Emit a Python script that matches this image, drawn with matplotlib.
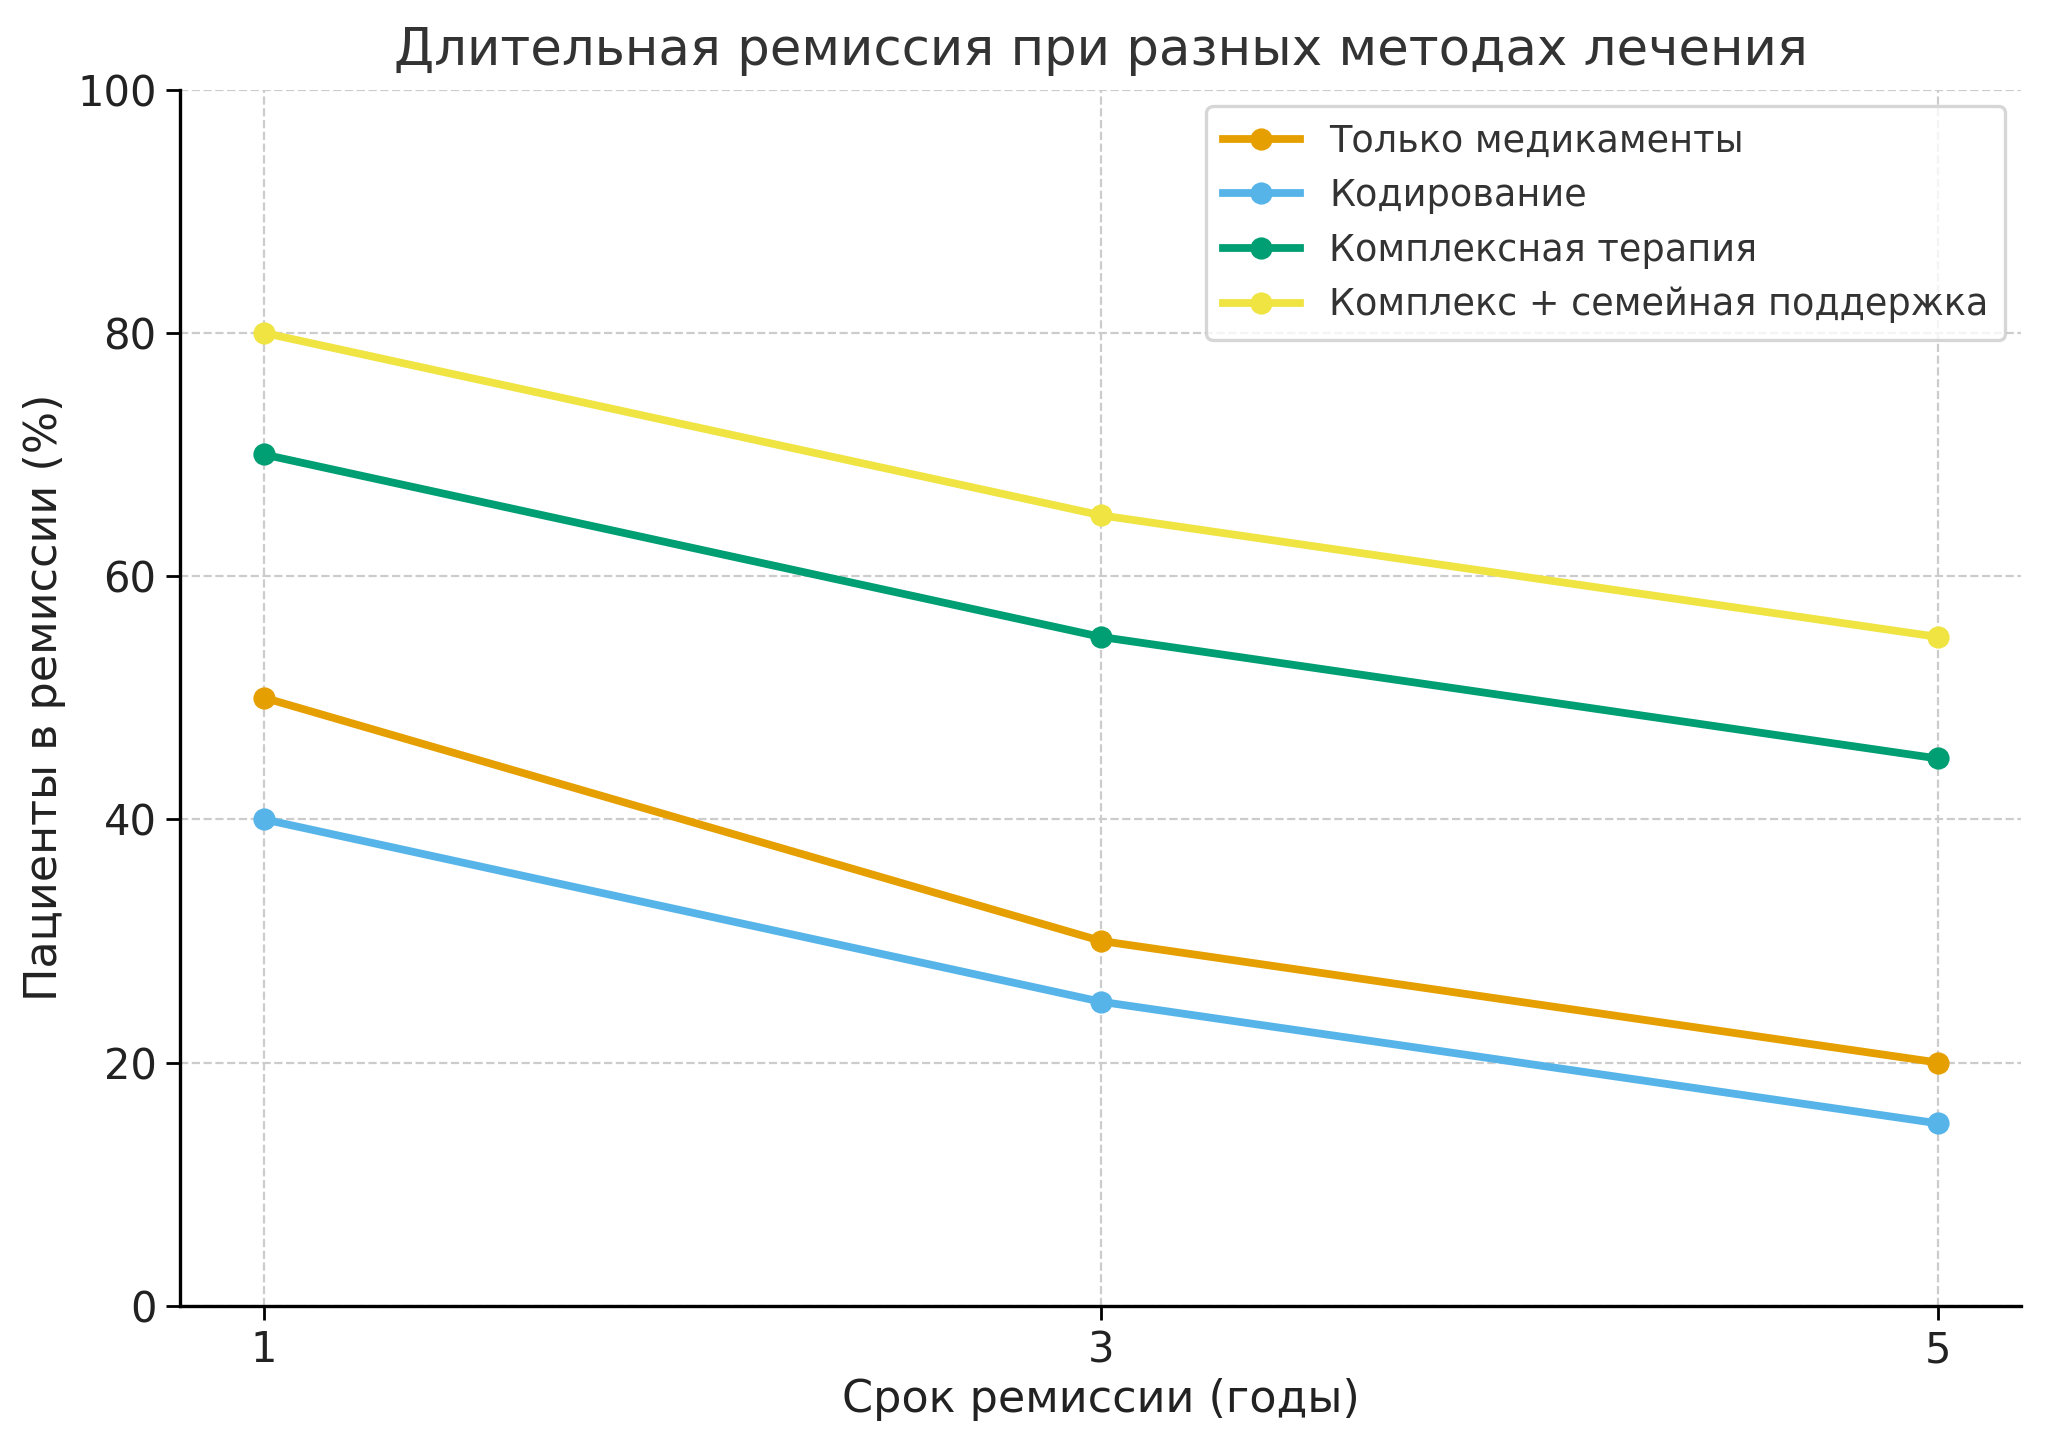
import matplotlib
matplotlib.use('Agg')
import matplotlib.pyplot as plt

# Data
years = [1, 3, 5]
meds_only = [50, 30, 20]
coding = [40, 25, 15]
complex_therapy = [70, 55, 45]
complex_family = [80, 65, 55]

series_labels = [
    'Только медикаменты',
    'Кодирование',
    'Комплексная терапия',
    'Комплекс + семейная поддержка',
]
series_colors = ['#E69F00', '#56B4E9', '#009E73', '#F0E442']

plt.rcParams['font.family'] = ['DejaVu Sans']

fig = plt.figure(figsize=(10.24, 7.23), dpi=200)
ax = fig.add_axes([0.088, 0.097, 0.899, 0.841])

for vals, label, color in zip([meds_only, coding, complex_therapy, complex_family],
                              series_labels, series_colors):
    ax.plot(years, vals, '-o', color=color, label=label, linewidth=2.8, markersize=7)

ax.set_ylim(0, 100)
ax.set_xticks(years)
ax.set_yticks([0, 20, 40, 60, 80, 100])
ax.tick_params(labelsize=15, length=5, width=1, labelcolor='#222222')

ax.set_title('Длительная ремиссия при разных методах лечения', fontsize=18.5,
             color='#333333', pad=9)
ax.set_xlabel('Срок ремиссии (годы)', fontsize=16, color='#222222', labelpad=2.5)
ax.set_ylabel('Пациенты в ремиссии (%)', fontsize=16, color='#222222')

ax.grid(True, linestyle='--', color='#cccccc', linewidth=0.8)
ax.spines['top'].set_visible(False)
ax.spines['right'].set_visible(False)
ax.spines['left'].set_linewidth(1.2)
ax.spines['bottom'].set_linewidth(1.2)

leg = ax.legend(loc='upper right', fontsize=13.2, frameon=True, borderpad=0.45,
                labelspacing=0.48, handlelength=2.1, borderaxespad=0.45)
leg.get_frame().set_edgecolor('#cccccc')
leg.get_frame().set_linewidth(1.2)
for t in leg.get_texts():
    t.set_color('#333333')

fig.savefig('out.png', dpi=200)
